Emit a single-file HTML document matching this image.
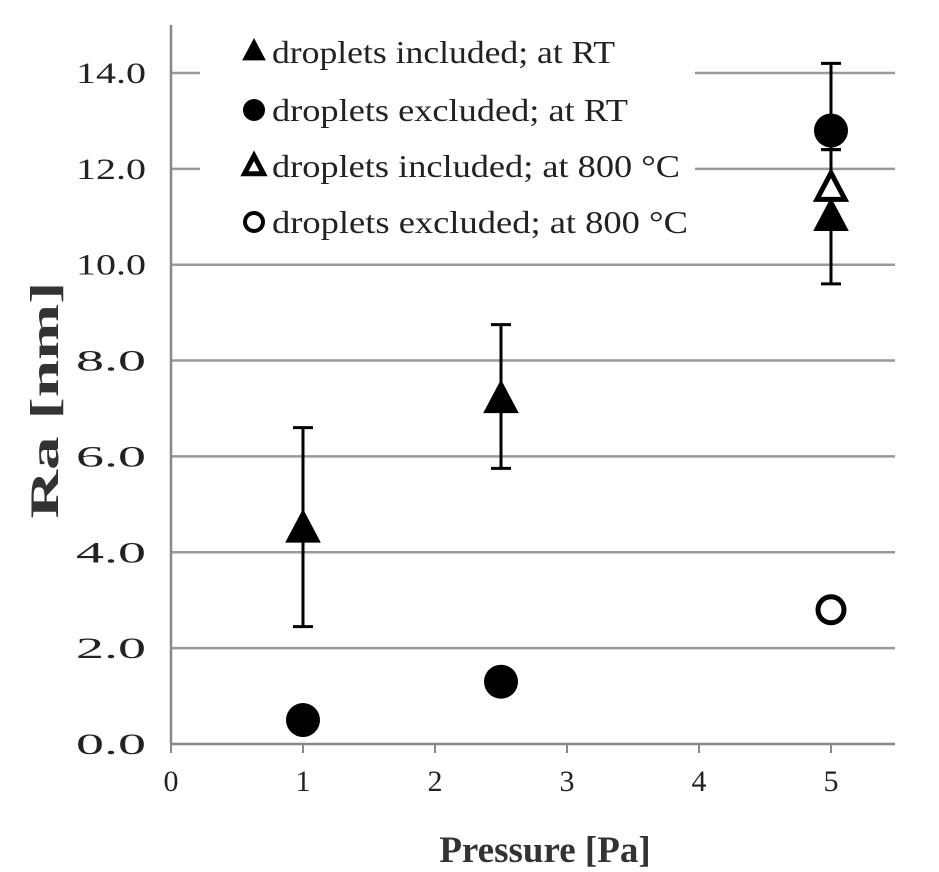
<!DOCTYPE html>
<html><head><meta charset="utf-8"><style>
html,body{margin:0;padding:0;background:#fff}
svg{display:block;font-family:"Liberation Serif",serif}
</style></head><body>
<svg id="chart" width="939" height="872"></svg>
<script>
const xTicks=[0,1,2,3,4,5];
const yTicks=[0,2,4,6,8,10,12,14];
const triRtX=[1,2.5,5];
const triRtY=[4.5,7.2,11.0];
const triRtLo=[2.45,5.75,9.6];
const triRtHi=[6.6,8.75,12.4];
const cirRtX=[1,2.5,5];
const cirRtY=[0.5,1.3,12.8];
const cirRtLo=[null,null,12.4];
const cirRtHi=[null,null,14.2];
const tri800X=[5];
const tri800Y=[11.6];
const cir800X=[5];
const cir800Y=[2.8];
const legendLabels=["droplets included; at RT","droplets excluded; at RT","droplets included; at 800 °C","droplets excluded; at 800 °C"];
const legendLens=[343,356,408,416];

const NS="http://www.w3.org/2000/svg";
const svg=document.getElementById('chart');
const X=v=>171+132*v;
const Y=v=>744-47.93*v;
function mk(tag,attrs,parent){const e=document.createElementNS(NS,tag);for(const k in attrs)e.setAttribute(k,attrs[k]);(parent||svg).appendChild(e);return e;}

yTicks.forEach((t,i)=>{
  if(t>0){const g=mk('line',{x1:171,x2:895,y1:Y(t),y2:Y(t),stroke:'#999','stroke-width':2.5});
  
  }
  const l=mk('text',{x:146,y:Y(t)+10,'text-anchor':'end','font-size':30,fill:'#222',textLength:70,lengthAdjust:'spacingAndGlyphs'});
  l.textContent=t.toFixed(1);
  
  
});
xTicks.forEach(t=>{
  const tk=mk('line',{x1:X(t),x2:X(t),y1:744,y2:753,stroke:'#888','stroke-width':2});
  
  
  const l=mk('text',{x:X(t),y:791,'text-anchor':'middle','font-size':30,fill:'#222'});
  l.textContent=t;
  
  
});
const ya=mk('line',{x1:171,x2:171,y1:25,y2:744,stroke:'#888','stroke-width':2.5});


const xa=mk('line',{x1:171,x2:895,y1:744,y2:744,stroke:'#888','stroke-width':2.5});



const lb=mk('rect',{x:200,y:30,width:495,height:215,fill:'#fff'});



function err(x,lo,hi,name){
  const g=mk('g',{stroke:'#000','stroke-width':3});
  
  
  mk('line',{x1:X(x),x2:X(x),y1:Y(lo),y2:Y(hi)},g);
  mk('line',{x1:X(x)-10,x2:X(x)+10,y1:Y(lo),y2:Y(lo)},g);
  mk('line',{x1:X(x)-10,x2:X(x)+10,y1:Y(hi),y2:Y(hi)},g);
}
function tri(cx,cy,s,filled){
  const h=s*0.9;
  return mk('polygon',{points:`${cx},${cy-h*0.6} ${cx-s/2},${cy+h*0.45} ${cx+s/2},${cy+h*0.45}`,fill:filled?'#000':'#fff',stroke:'#000','stroke-width':filled?1:5,'stroke-linejoin':'miter'});
}
triRtX.forEach((x,i)=>err(x,triRtLo[i],triRtHi[i],'error-bar-tri-rt'));
cirRtX.forEach((x,i)=>{if(cirRtLo[i]!==null)err(x,cirRtLo[i],cirRtHi[i],'error-bar-circle-rt');});

cirRtX.forEach((x,i)=>{
  const c=mk('circle',{cx:X(x),cy:Y(cirRtY[i]),r:17,fill:'#000'});
  
  
});
cir800X.forEach((x,i)=>{
  const c=mk('circle',{cx:X(x),cy:Y(cir800Y[i]),r:13,fill:'#fff',stroke:'#000','stroke-width':5});
  
  
});
tri800X.forEach((x,i)=>{
  const t=tri(X(x),Y(tri800Y[i]),28,false);
  
  
});
triRtX.forEach((x,i)=>{
  const t=tri(X(x),Y(triRtY[i]),34,true);
  
  
});

const ly=[52,110,166,222];
legendLabels.forEach((lab,i)=>{
  const g=mk('g',{});
  
  
  let m;
  if(i===0)m=tri(254,ly[i]-1,22,true);
  if(i===1)m=mk('circle',{cx:254,cy:ly[i],r:11,fill:'#000'});
  if(i===2)m=tri(254,ly[i],19,false);
  if(i===3)m=mk('circle',{cx:254,cy:ly[i],r:9,fill:'#fff',stroke:'#000','stroke-width':4});
  g.appendChild(m);
  const t=mk('text',{x:272,y:ly[i]+11,'font-size':32,fill:'#222',textLength:legendLens[i],lengthAdjust:'spacingAndGlyphs'},g);
  t.textContent=lab;
});

const yt=mk('text',{x:0,y:0,'font-size':40,'font-weight':'bold','text-anchor':'middle',fill:'#333',transform:'translate(58,400) rotate(-90)',textLength:237,lengthAdjust:'spacingAndGlyphs'});
yt.textContent='Ra [nm]';


const xt=mk('text',{x:545,y:862,'font-size':37,'font-weight':'bold','text-anchor':'middle',fill:'#333'});
xt.textContent='Pressure [Pa]';


</script>
</body></html>
